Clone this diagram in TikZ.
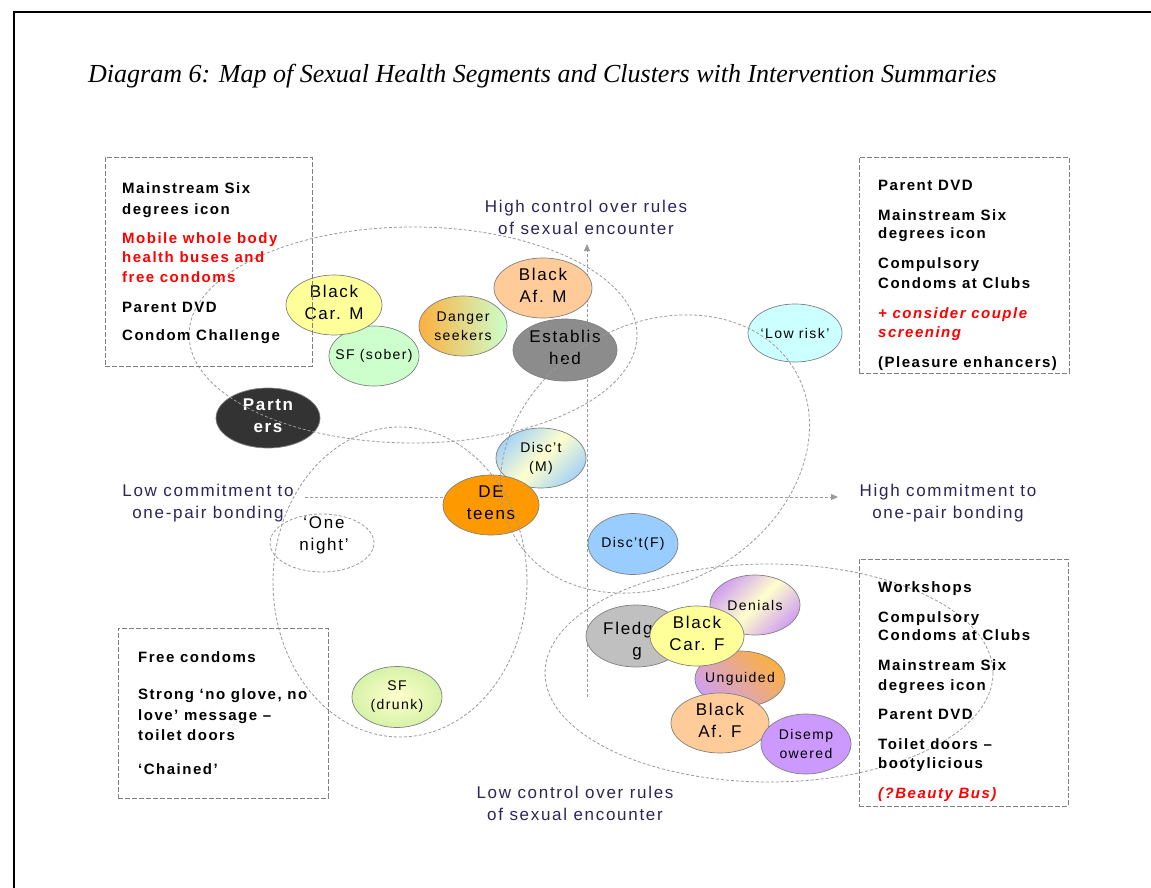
\documentclass[tikz,border=0pt]{standalone}
\usepackage{fontspec}
\setmainfont[LetterSpace=10]{Liberation Sans}
\newfontfamily\titlefont{Liberation Serif}
\usetikzlibrary{shapes.geometric,arrows.meta}
\definecolor{segline}{HTML}{808080}
\definecolor{clusterline}{HTML}{9A9A9A}
\definecolor{axisgray}{HTML}{9A9A9A}
\definecolor{boxgray}{HTML}{808080}
\definecolor{navy}{HTML}{2D2459}
\definecolor{textred}{HTML}{FF0000}
\definecolor{cyel}{HTML}{FFFF99}
\definecolor{cgrn}{HTML}{CCFFCC}
\definecolor{corg}{HTML}{FFCC99}
\definecolor{cest}{HTML}{8C8C8C}
\definecolor{ccyn}{HTML}{CCFFFF}
\definecolor{cdark}{HTML}{333333}
\definecolor{cdet}{HTML}{FF9900}
\definecolor{cblu}{HTML}{99CCFF}
\definecolor{cfled}{HTML}{C0C0C0}
\definecolor{cpur}{HTML}{CC99FF}
\definecolor{gorange}{HTML}{FBB040}
\definecolor{gblue}{HTML}{A8D4F5}
\definecolor{gpale}{HTML}{FFFFCC}
\definecolor{gpurple}{HTML}{D0A0F0}
\definecolor{ggreen}{HTML}{D6F2A8}
\newcommand{\segnode}[7]{%
  \node[segshape,minimum width=#3pt,minimum height=#4pt,#5] (#1) at (#2) {};
  \node[#6] (#1-t) at (#1.center) {#7};}
\begin{document}
\begin{tikzpicture}[x=1pt,y=-1pt,
  segshape/.style={ellipse,draw=segline,line width=0.7pt,inner sep=0pt},
  segbig/.style={font=\fontsize{17}{22}\selectfont,align=center,inner sep=0pt,yshift=2.5pt},
  segsmall/.style={font=\fontsize{14}{19}\selectfont,align=center,inner sep=0pt},
  cluster/.style={draw=clusterline,line width=0.8pt,dash pattern=on 3pt off 2pt},
  axisline/.style={draw=axisgray,line width=0.8pt,dash pattern=on 3pt off 2pt,-{Triangle[length=7pt,width=6pt]}},
  axislabel/.style={text=navy,font=\fontsize{17}{22}\selectfont,align=center,inner sep=0pt},
  ibox/.style={draw=boxgray,line width=0.9pt,dash pattern=on 5pt off 2pt,inner sep=0pt,anchor=north west},
  boxtxt/.style={anchor=mid west,inner sep=0pt,yshift=-3pt,font=\fontsize{15}{19}\selectfont\bfseries},
  redtxt/.style={boxtxt,text=textred},
  reditx/.style={boxtxt,text=textred,font=\fontsize{15}{19}\selectfont\bfseries\itshape}]
\useasboundingbox (0,0) rectangle (1151,888);
\fill[white] (0,0) rectangle (1151,888);
\draw[line width=2pt] (1151,12) -- (14,12) -- (14,888);
% title
\node[anchor=base west,inner sep=0pt,font={\titlefont\itshape\fontsize{26}{30}\selectfont}] (title) at (88,83)
  {Diagram 6: Map of Sexual Health Segments and Clusters with Intervention Summaries};
% axes
\coordinate (hL) at (305,497);
\coordinate (hR) at (838,497);
\coordinate (vB) at (587,697);
\coordinate (vT) at (587,244);
\draw[axisline] (hL) -- (hR);
\draw[axisline] (vB) -- (vT);
\node[axislabel] (hc) at (586,217) {High control over rules\\of sexual encounter};
\node[axislabel] (lc) at (575,803) {Low control over rules\\of sexual encounter};
\node[axislabel] (lcm) at (208,503) {Low commitment to\\one-pair bonding};
\node[axislabel] (hcm) at (948,503) {High commitment to\\one-pair bonding};
% segments
\segnode{sfs}{374,356}{90}{60}{fill=cgrn}{segsmall}{SF (sober)}
\segnode{bcm}{334,305}{96}{60}{fill=cyel}{segbig}{Black\\Car. M}
\segnode{dan}{463,326}{88}{60}{left color=gorange,right color=cgrn}{segsmall}{Danger\\seekers}
\segnode{bam}{543,288}{98}{60}{fill=corg}{segbig}{Black\\Af. M}
\segnode{est}{565,350}{104}{62}{fill=cest}{segbig}{Establis\\hed}
\segnode{low}{795,333}{94}{58}{fill=ccyn}{segsmall}{‘Low risk’}
\segnode{par}{268,418}{104}{60}{fill=cdark}{segbig,text=white,font=\fontsize{17}{22}\selectfont\bfseries}{Partn\\ers}
\segnode{dim}{541,458}{90}{60}{top color=gblue,bottom color=gblue,middle color=gpale,shading angle=45}{segsmall}{Disc’t\\(M)}
\segnode{det}{491,505}{96}{60}{fill=cdet}{segbig}{DE\\teens}
\segnode{dif}{633,544}{90}{61}{fill=cblu}{segsmall}{Disc’t(F)}
\segnode{sfd}{397,697}{90}{61}{inner color=gpale,outer color=ggreen}{segsmall}{SF\\(drunk)}
\segnode{den}{755,605}{90}{60}{top color=gpurple,bottom color=gpurple,middle color=gpale,shading angle=45}{segsmall}{Denials}
\segnode{ung}{740,679}{90}{56}{top color=gorange,bottom color=gpurple,shading angle=-45}{segsmall}{Unguided}
\node[segshape,fill=cfled,minimum width=100pt,minimum height=62pt] (fle) at (636,636) {};
\node[segbig,anchor=base west,yshift=0pt] (fle-a) at (603,637) {Fledg};
\node[segbig,anchor=base,yshift=0pt] (fle-b) at (637,659) {g};
\segnode{bcf}{697,636}{94}{60}{fill=cyel}{segbig}{Black\\Car. F}
\segnode{baf}{720,723}{98}{60}{fill=corg}{segbig}{Black\\Af. F}
\segnode{dis}{806,744}{90}{60}{fill=cpur}{segsmall}{Disemp\\owered}
% one night
\node[segshape,draw=clusterline,line width=0.8pt,dash pattern=on 3pt off 2pt,minimum width=104pt,minimum height=58pt] (one) at (322,543) {};
\node[segbig] (one-t) at (324,538) {‘One\\night’};
% clusters
\draw[cluster] (413,335) ellipse [x radius=224pt, y radius=108pt];
\draw[cluster,rotate around={31.5:(655,454)}] (655,454) ellipse [x radius=163pt, y radius=129pt];
\draw[cluster] (400,582) ellipse [x radius=127pt, y radius=155pt];
\draw[cluster] (769,673) ellipse [x radius=224pt, y radius=109pt];
% boxes
\node[ibox,minimum width=207pt,minimum height=209pt] (boxTL) at (105,157) {};
\node[ibox,minimum width=210pt,minimum height=216pt] (boxTR) at (859,157) {};
\node[ibox,minimum width=210pt,minimum height=170pt] (boxBL) at (118,628) {};
\node[ibox,minimum width=209pt,minimum height=247pt] (boxBR) at (859,559) {};
% top-left text
\node[boxtxt] (tl1) at (122,188) {Mainstream Six};
\node[boxtxt] (tl2) at (122,209) {degrees icon};
\node[redtxt] (tl3) at (122,238) {Mobile whole body};
\node[redtxt] (tl4) at (122,257) {health buses and};
\node[redtxt] (tl5) at (122,277) {free condoms};
\node[boxtxt] (tl6) at (122,307) {Parent DVD};
\node[boxtxt] (tl7) at (122,335) {Condom Challenge};
% top-right text
\node[boxtxt] (tr1) at (878,185) {Parent DVD};
\node[boxtxt] (tr2) at (878,215) {Mainstream Six};
\node[boxtxt] (tr3) at (878,233) {degrees icon};
\node[boxtxt] (tr4) at (878,263) {Compulsory};
\node[boxtxt] (tr5) at (878,283) {Condoms at Clubs};
\node[reditx] (tr6) at (878,313) {+ consider couple};
\node[reditx] (tr7) at (878,332) {screening};
\node[boxtxt] (tr8) at (878,362) {(Pleasure enhancers)};
% bottom-left text
\node[boxtxt] (bl1) at (138,657) {Free condoms};
\node[boxtxt] (bl2) at (138,694) {Strong ‘no glove, no};
\node[boxtxt] (bl3) at (138,715) {love’ message –};
\node[boxtxt] (bl4) at (138,735) {toilet doors};
\node[boxtxt] (bl5) at (138,769) {‘Chained’};
% bottom-right text
\node[boxtxt] (br1) at (878,587) {Workshops};
\node[boxtxt] (br2) at (878,617) {Compulsory};
\node[boxtxt] (br3) at (878,635) {Condoms at Clubs};
\node[boxtxt] (br4) at (878,665) {Mainstream Six};
\node[boxtxt] (br5) at (878,685) {degrees icon};
\node[boxtxt] (br6) at (878,714) {Parent DVD};
\node[boxtxt] (br7) at (878,744) {Toilet doors –};
\node[boxtxt] (br8) at (878,763) {bootylicious};
\node[reditx] (br9) at (878,793) {(?Beauty Bus)};
\end{tikzpicture}
\end{document}
